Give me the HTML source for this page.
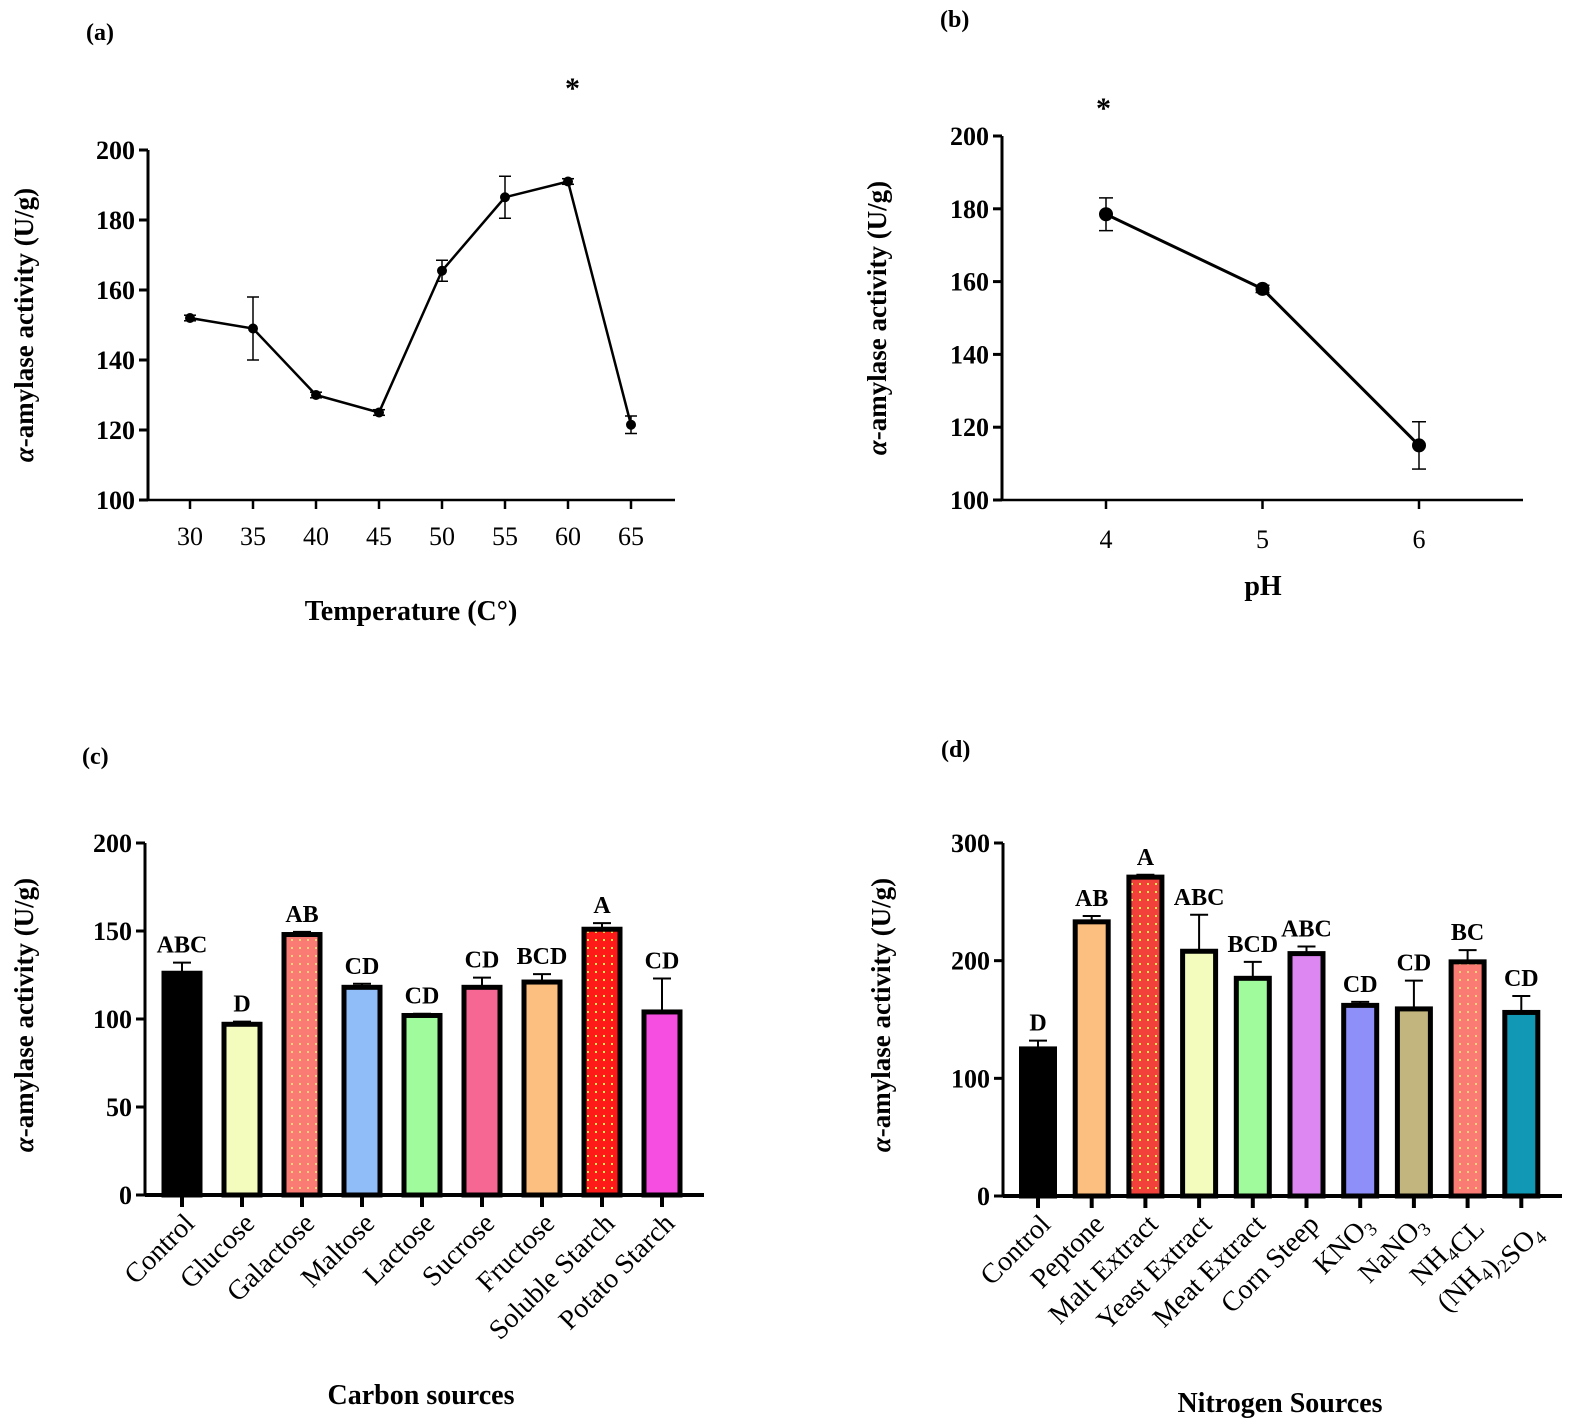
<!DOCTYPE html>
<html><head><meta charset="utf-8"><style>
html,body{margin:0;padding:0;background:#fff}
svg{display:block}
text{font-family:"Liberation Serif",serif;fill:#000}
</style></head><body>
<svg id="fig" width="1571" height="1428" viewBox="0 0 1571 1428">
<defs>
<pattern id="dotsR" width="8" height="8" patternUnits="userSpaceOnUse"><rect width="8" height="8" fill="#ff1a1a"/><rect x="3" y="3" width="2" height="2" fill="#ffe84a"/></pattern>
<pattern id="dotsS" width="8" height="8" patternUnits="userSpaceOnUse"><rect width="8" height="8" fill="#fa7a74"/><rect x="3" y="3" width="2" height="2" fill="#ffd27a"/></pattern>
<pattern id="dotsM" width="8" height="8" patternUnits="userSpaceOnUse"><rect width="8" height="8" fill="#f2403a"/><rect x="3" y="3" width="2" height="2" fill="#ffe84a"/></pattern>
</defs>
<g id="root"></g>
</svg>
<script>
// Panel a data
const tempCats=[30,35,40,45,50,55,60,65];
const tempVals=[152,149,130,125,165.5,186.5,191,121.5];
const tempErr=[0.8,9,0.8,0.8,3,6,0.8,2.5];
const tempTicks=[100,120,140,160,180,200];
// Panel b data
const phCats=[4,5,6];
const phVals=[178.5,158,115];
const phErr=[4.5,1,6.5];
const phTicks=[100,120,140,160,180,200];
// Panel c data
const carbonCats=["Control","Glucose","Galactose","Maltose","Lactose","Sucrose","Fructose","Soluble Starch","Potato Starch"];
const carbonVals=[126,97,148,118,102,118,121,151,104];
const carbonErr=[6,1.5,1.5,2,1,5.5,4.5,3.5,19];
const carbonLetters=["ABC","D","AB","CD","CD","CD","BCD","A","CD"];
const carbonTicks=[0,50,100,150,200];
// Panel d data
const nitroCats=["Control","Peptone","Malt Extract","Yeast Extract","Meat Extract","Corn Steep","KNO3","NaNO3","NH4CL","(NH4)2SO4"];
const nitroVals=[125,233,271,208,185,206,162,159,199,156];
const nitroErr=[7,5,2,31,14,6,3,24,10,14];
const nitroLetters=["D","AB","A","ABC","BCD","ABC","CD","CD","BC","CD"];
const nitroTicks=[0,100,200,300];

const carbonFill=["#000","#f3fbbd","url(#dotsS)","#90bdf7","#a0fb9c","#f76794","#fdbf80","url(#dotsR)","#f54ee0"];
const nitroFill=["#000","#fdbf80","url(#dotsM)","#f3fbbd","#a0fb9c","#dd87f3","#8e8ff8","#c2b67e","url(#dotsS)","#1198b4"];

const NS="http://www.w3.org/2000/svg";
const root=document.getElementById('root');
function mk(tag,attrs,parent,txt){const e=document.createElementNS(NS,tag);for(const k in attrs)e.setAttribute(k,attrs[k]);if(txt!==undefined)e.innerHTML=txt;(parent||root).appendChild(e);return e;}
function grp(name){const g=mk('g',{});return g;}
function lin(g,x1,y1,x2,y2,w){return mk('line',{x1,y1,x2,y2,stroke:'#000','stroke-width':w},g);}

function yaxis(g,x,yScale,ticks,top,bottom,fs){
  const a=lin(g,x,top,x,bottom,3);
  
  ticks.forEach(t=>{const y=yScale(t);lin(g,x-9,y,x,y,3);
    const tx=mk('text',{x:x-13,y:y+9,'text-anchor':'end','font-size':fs,'font-weight':'bold'},g,t);
    });
}
function ylabel(g,x,y){const t=mk('text',{x:0,y:0,transform:`translate(${x},${y}) rotate(-90)`,'text-anchor':'middle','font-size':27,'font-weight':'bold'},g,'<tspan font-style="italic">α</tspan>-amylase activity (U/g)');
  }
function label(g,x,y,s,name,fs,bold){const t=mk('text',{x,y,'font-size':fs||24,'font-weight':bold===false?'normal':'bold'},g,s);return t;}

// ===== Panel a =====
(function(){
  const g=grp('panel-a');
  const y=v=>500-(v-100)*3.5, x=c=>190+(c-30)/5*63;
  label(g,86,40,'(a)','panel-label',24);
  yaxis(g,148,y,tempTicks,150,500,26);
  const xa=lin(g,148,500,675,500,2.5);
  tempCats.forEach(c=>{lin(g,x(c),500,x(c),509,2.5);
    const t=mk('text',{x:x(c),y:545,'text-anchor':'middle','font-size':26},g,c);});
  const pts=tempCats.map((c,i)=>x(c)+','+y(tempVals[i])).join(' ');
  const pl=mk('polyline',{points:pts,fill:'none',stroke:'#000','stroke-width':2.5},g);
  tempCats.forEach((c,i)=>{const cx=x(c),cy=y(tempVals[i]),e=tempErr[i]*3.5;
    lin(g,cx,cy-e,cx,cy+e,1.5);lin(g,cx-6,cy-e,cx+6,cy-e,1.5);lin(g,cx-6,cy+e,cx+6,cy+e,1.5);
    const p=mk('circle',{cx,cy,r:5,fill:'#000'},g);});
  label(g,565,98,'*','significance-asterisk',30);
  ylabel(g,33,325);
  const t=mk('text',{x:411,y:620,'text-anchor':'middle','font-size':28,'font-weight':'bold'},g,'Temperature (C°)');
})();

// ===== Panel b =====
(function(){
  const g=grp('panel-b');
  const y=v=>500-(v-100)*3.64, x=c=>1106+(c-4)*156.5;
  label(g,940,27,'(b)','panel-label',24);
  yaxis(g,1002,y,phTicks,136,500,26);
  const xa=lin(g,1002,500,1523,500,2.5);
  phCats.forEach(c=>{lin(g,x(c),500,x(c),509,2.5);
    const t=mk('text',{x:x(c),y:548,'text-anchor':'middle','font-size':26},g,c);});
  const pts=phCats.map((c,i)=>x(c)+','+y(phVals[i])).join(' ');
  const pl=mk('polyline',{points:pts,fill:'none',stroke:'#000','stroke-width':3},g);
  phCats.forEach((c,i)=>{const cx=x(c),cy=y(phVals[i]),e=phErr[i]*3.64;
    lin(g,cx,cy-e,cx,cy+e,1.5);lin(g,cx-7,cy-e,cx+7,cy-e,1.5);lin(g,cx-7,cy+e,cx+7,cy+e,1.5);
    const p=mk('circle',{cx,cy,r:7,fill:'#000'},g);});
  label(g,1096,118,'*','significance-asterisk',30);
  ylabel(g,886,318);
  const t=mk('text',{x:1263,y:595,'text-anchor':'middle','font-size':28,'font-weight':'bold'},g,'pH');
})();

// ===== Bar panels =====
function barPanel(name,cats,vals,errs,letters,fills,ticks,o){
  const g=grp(name);
  const y=v=>o.y0-(v/o.max)*(o.y0-o.yTop), x=i=>o.x0+i*o.step;
  label(g,o.lx,o.ly,o.plabel,'panel-label',24);
  yaxis(g,o.ax,y,ticks,o.yTop,o.y0,26);
  const xa=lin(g,o.ax,o.y0,o.axEnd,o.y0,4);
  cats.forEach((c,i)=>{
    const cx=x(i),top=y(vals[i]),e=(o.y0-o.yTop)*errs[i]/o.max,w=o.bw;
    lin(g,cx,top,cx,top-e,2);lin(g,cx-9,top-e,cx+9,top-e,2);
    const r=mk('rect',{x:cx-w/2,y:top,width:w,height:o.y0-top,fill:fills[i],stroke:'#000','stroke-width':5},g);
    
    const lt=mk('text',{x:cx,y:top-e-10,'text-anchor':'middle','font-size':24,'font-weight':'bold'},g,letters[i]);
    
    lin(g,cx,o.y0,cx,o.y0+12,4);
    const lab=c.replace(/(\d)/g,'<tspan font-size="19" dy="6">$1</tspan><tspan dy="-6"></tspan>');
    const t=mk('text',{x:0,y:0,transform:`translate(${cx+14},${o.y0+30}) rotate(-45)`,'text-anchor':'end','font-size':28},g,lab);
    
  });
  ylabel(g,o.ylx,1015);
  const t=mk('text',{x:o.tx,y:o.ty,'text-anchor':'middle','font-size':28,'font-weight':'bold'},g,o.title);
}
barPanel('panel-c',carbonCats,carbonVals,carbonErr,carbonLetters,carbonFill,carbonTicks,
  {y0:1195,yTop:843,max:200,x0:182,step:60,bw:36,ax:145,axEnd:704,lx:82,ly:764,plabel:'(c)',ylx:33,tx:421,ty:1404,title:'Carbon sources'});
barPanel('panel-d',nitroCats,nitroVals,nitroErr,nitroLetters,nitroFill,nitroTicks,
  {y0:1196,yTop:843,max:300,x0:1038,step:53.7,bw:33,ax:1003,axEnd:1562,lx:941,ly:757,plabel:'(d)',ylx:890,tx:1280,ty:1412,title:'Nitrogen Sources'});
</script>
</body></html>
